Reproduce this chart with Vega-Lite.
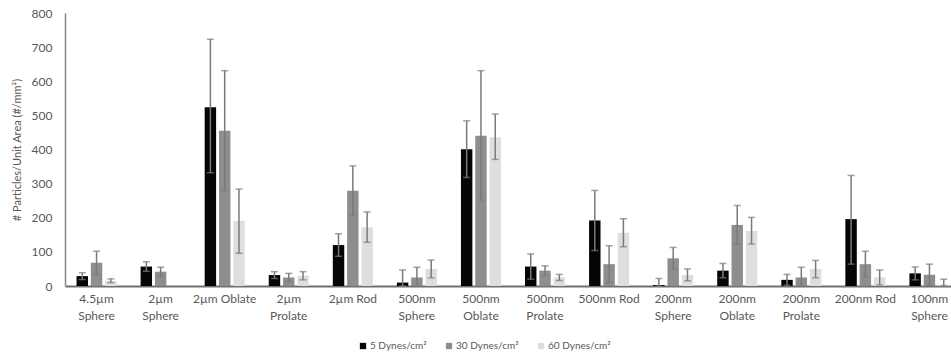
{
  "$schema": "https://vega.github.io/schema/vega-lite/v6.json",
  "width": 886,
  "height": 273,
  "autosize": {"type": "none"},
  "padding": {"left": 65, "top": 13, "right": 0, "bottom": 74},
  "background": "white",
  "config": {
    "view": {"stroke": null},
    "font": "Lato",
    "axis": {"labelColor": "#595959", "titleColor": "#595959", "labelFont": "Lato", "titleFont": "Lato", "ticks": false, "grid": false},
    "axisY": {"tickCount": 8, "labelFontSize": 12, "labelPadding": 13, "titleFontSize": 11, "titleFontWeight": "normal", "titlePadding": 9, "domainColor": "#888888", "domainWidth": 1.5}
  },
  "data": {
    "values": [
      {"cat": "4.5µm Sphere", "series": "5 Dynes/cm²", "value": 29, "lo": 19, "hi": 39},
      {"cat": "4.5µm Sphere", "series": "30 Dynes/cm²", "value": 68, "lo": 34, "hi": 102},
      {"cat": "4.5µm Sphere", "series": "60 Dynes/cm²", "value": 15, "lo": 10, "hi": 21},
      {"cat": "2µm Sphere", "series": "5 Dynes/cm²", "value": 57, "lo": 43, "hi": 71},
      {"cat": "2µm Sphere", "series": "30 Dynes/cm²", "value": 42, "lo": 29, "hi": 55},
      {"cat": "2µm Oblate", "series": "5 Dynes/cm²", "value": 524, "lo": 332, "hi": 723},
      {"cat": "2µm Oblate", "series": "30 Dynes/cm²", "value": 455, "lo": 279, "hi": 631},
      {"cat": "2µm Oblate", "series": "60 Dynes/cm²", "value": 191, "lo": 96, "hi": 284},
      {"cat": "2µm Prolate", "series": "5 Dynes/cm²", "value": 32, "lo": 22, "hi": 42},
      {"cat": "2µm Prolate", "series": "30 Dynes/cm²", "value": 25, "lo": 13, "hi": 37},
      {"cat": "2µm Prolate", "series": "60 Dynes/cm²", "value": 30, "lo": 18, "hi": 42},
      {"cat": "2µm Rod", "series": "5 Dynes/cm²", "value": 120, "lo": 87, "hi": 153},
      {"cat": "2µm Rod", "series": "30 Dynes/cm²", "value": 279, "lo": 206, "hi": 352},
      {"cat": "2µm Rod", "series": "60 Dynes/cm²", "value": 172, "lo": 128, "hi": 217},
      {"cat": "500nm Sphere", "series": "5 Dynes/cm²", "value": 10, "lo": 0, "hi": 47},
      {"cat": "500nm Sphere", "series": "30 Dynes/cm²", "value": 25, "lo": 0, "hi": 55},
      {"cat": "500nm Sphere", "series": "60 Dynes/cm²", "value": 50, "lo": 24, "hi": 76},
      {"cat": "500nm Oblate", "series": "5 Dynes/cm²", "value": 401, "lo": 318, "hi": 484},
      {"cat": "500nm Oblate", "series": "30 Dynes/cm²", "value": 440, "lo": 252, "hi": 631},
      {"cat": "500nm Oblate", "series": "60 Dynes/cm²", "value": 436, "lo": 371, "hi": 504},
      {"cat": "500nm Prolate", "series": "5 Dynes/cm²", "value": 57, "lo": 20, "hi": 94},
      {"cat": "500nm Prolate", "series": "30 Dynes/cm²", "value": 45, "lo": 31, "hi": 59},
      {"cat": "500nm Prolate", "series": "60 Dynes/cm²", "value": 25, "lo": 16, "hi": 34},
      {"cat": "500nm Rod", "series": "5 Dynes/cm²", "value": 192, "lo": 104, "hi": 280},
      {"cat": "500nm Rod", "series": "30 Dynes/cm²", "value": 64, "lo": 10, "hi": 118},
      {"cat": "500nm Rod", "series": "60 Dynes/cm²", "value": 156, "lo": 115, "hi": 197},
      {"cat": "200nm Sphere", "series": "5 Dynes/cm²", "value": 3, "lo": 0, "hi": 22},
      {"cat": "200nm Sphere", "series": "30 Dynes/cm²", "value": 81, "lo": 49, "hi": 113},
      {"cat": "200nm Sphere", "series": "60 Dynes/cm²", "value": 32, "lo": 15, "hi": 50},
      {"cat": "200nm Oblate", "series": "5 Dynes/cm²", "value": 45, "lo": 24, "hi": 66},
      {"cat": "200nm Oblate", "series": "30 Dynes/cm²", "value": 179, "lo": 122, "hi": 236},
      {"cat": "200nm Oblate", "series": "60 Dynes/cm²", "value": 161, "lo": 123, "hi": 201},
      {"cat": "200nm Prolate", "series": "5 Dynes/cm²", "value": 18, "lo": 2, "hi": 34},
      {"cat": "200nm Prolate", "series": "30 Dynes/cm²", "value": 25, "lo": 0, "hi": 55},
      {"cat": "200nm Prolate", "series": "60 Dynes/cm²", "value": 50, "lo": 24, "hi": 75},
      {"cat": "200nm Rod", "series": "5 Dynes/cm²", "value": 196, "lo": 64, "hi": 324},
      {"cat": "200nm Rod", "series": "30 Dynes/cm²", "value": 64, "lo": 26, "hi": 102},
      {"cat": "200nm Rod", "series": "60 Dynes/cm²", "value": 25, "lo": 3, "hi": 47},
      {"cat": "100nm Sphere", "series": "5 Dynes/cm²", "value": 37, "lo": 18, "hi": 56},
      {"cat": "100nm Sphere", "series": "30 Dynes/cm²", "value": 33, "lo": 2, "hi": 64},
      {"cat": "100nm Sphere", "series": "60 Dynes/cm²", "value": 5, "lo": 0, "hi": 20}
    ]
  },
  "encoding": {
    "x": {
      "field": "cat", "type": "nominal", "sort": null, "title": null,
      "scale": {"range": [0, 896], "paddingInner": 0.375, "paddingOuter": 0.18},
      "axis": {
        "labelAngle": 0, "labelFontSize": 12, "labelPadding": 7, "labelLineHeight": 17,
        "labelBaseline": "top",
        "labelExpr": "indexof(['2µm Oblate','2µm Rod','500nm Rod','200nm Rod'], datum.label) >= 0 ? datum.label : split(datum.label, ' ')",
        "domainColor": "#6f6f6f", "domainWidth": 2, "labelOverlap": false, "labelBound": false
      }
    },
    "xOffset": {
      "field": "series", "type": "nominal",
      "scale": {"domain": ["5 Dynes/cm²", "30 Dynes/cm²", "60 Dynes/cm²"], "paddingInner": 0.2, "paddingOuter": 0}
    }
  },
  "layer": [
    {
      "mark": {"type": "bar"},
      "encoding": {
        "y": {
          "field": "value", "type": "quantitative",
          "title": "# Particles/Unit Area (#/mm²)",
          "scale": {"domain": [0, 800], "nice": false}
        },
        "color": {
          "field": "series", "type": "nominal",
          "scale": {"domain": ["5 Dynes/cm²", "30 Dynes/cm²", "60 Dynes/cm²"], "range": ["#050505", "#8e8e8e", "#dedede"]},
          "legend": {
            "title": null, "orient": "none", "direction": "horizontal",
            "legendX": 293, "legendY": 328, "padding": 0,
            "symbolType": "square", "symbolSize": 40, "symbolStrokeWidth": 0,
            "labelFontSize": 10, "labelColor": "#595959", "labelFont": "Lato",
            "labelOffset": 2, "columnPadding": 17
          }
        }
      }
    },
    {
      "mark": {"type": "rule", "color": "#7a7a7a", "strokeWidth": 1.5},
      "encoding": {
        "y": {"field": "lo", "type": "quantitative", "title": "# Particles/Unit Area (#/mm²)"},
        "y2": {"field": "hi"}
      }
    },
    {
      "mark": {"type": "tick", "color": "#7a7a7a", "thickness": 1.5, "size": 7},
      "encoding": {"y": {"field": "lo", "type": "quantitative", "title": "# Particles/Unit Area (#/mm²)"}}
    },
    {
      "mark": {"type": "tick", "color": "#7a7a7a", "thickness": 1.5, "size": 7},
      "encoding": {"y": {"field": "hi", "type": "quantitative", "title": "# Particles/Unit Area (#/mm²)"}}
    }
  ]
}
